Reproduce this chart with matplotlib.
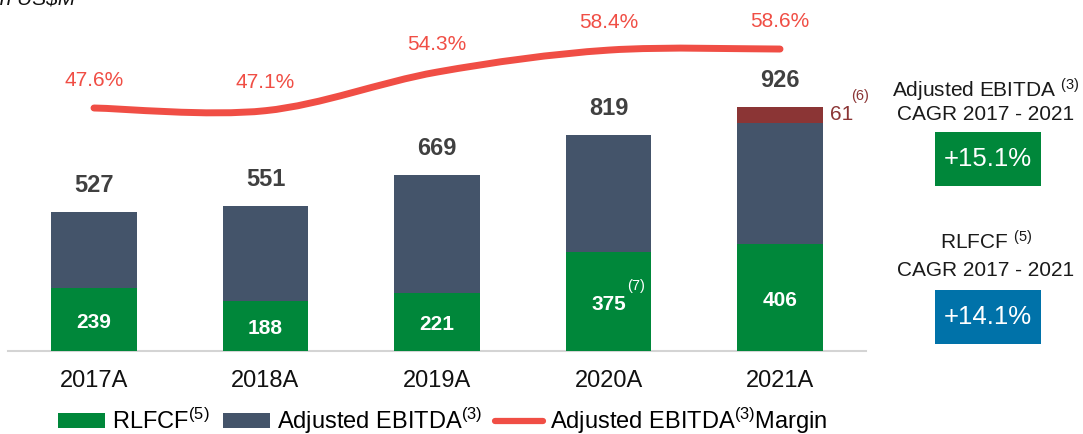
import matplotlib.pyplot as plt
from matplotlib.patches import Patch, PathPatch, Rectangle
from matplotlib.lines import Line2D
from matplotlib.path import Path

plt.rcParams['font.family'] = ['Liberation Sans', 'DejaVu Sans']
plt.rcParams['mathtext.fontset'] = 'custom'
plt.rcParams['mathtext.rm'] = 'Liberation Sans'
plt.rcParams['mathtext.it'] = 'Liberation Sans:italic'
plt.rcParams['mathtext.bf'] = 'Liberation Sans:bold'

years = ['2017A', '2018A', '2019A', '2020A', '2021A']
adj_ebitda = [527, 551, 669, 819, 926]
rlfcf = [239, 188, 221, 375, 406]
one_off = [0, 0, 0, 0, 61]
margin = [47.6, 47.1, 54.3, 58.4, 58.6]
cagr_ebitda = '+15.1%'
cagr_rlfcf = '+14.1%'

GREEN = '#00873A'
NAVY = '#44546A'
MAROON = '#8B3535'
RED = '#F04E45'
BLUE = '#0072A9'
DARK = '#404040'

W, H = 1083, 434
fig = plt.figure(figsize=(W / 100, H / 100), dpi=100)

# bars sit on a baseline 351px from the top
ax = fig.add_axes([0, 83 / H, 1, 351 / H])
x = list(range(len(years)))
rest = [e - r - o for e, r, o in zip(adj_ebitda, rlfcf, one_off)]
top_base = [r + m for r, m in zip(rlfcf, rest)]

ax.bar(x, rlfcf, width=0.5, color=GREEN, zorder=2)
ax.bar(x, rest, bottom=rlfcf, width=0.5, color=NAVY, zorder=2)
ax.bar(x, one_off, bottom=top_base, width=0.5, color=MAROON, zorder=2)

ax.set_xlim(-94 / 171.5, (W - 94) / 171.5)
ax.set_ylim(0, 351 / 0.2638)
ax.plot([-0.5, len(x) - 0.5], [0, 0], color='#d4d4d4', lw=1.5, clip_on=False, zorder=1)

for i in x:
    ax.annotate(str(adj_ebitda[i]), (i, adj_ebitda[i]), xytext=(0, 19),
                textcoords='offset points', ha='center', va='center',
                fontsize=17, fontweight='bold', color=DARK)
    ax.annotate(str(rlfcf[i]), (i, rlfcf[i] / 2), xytext=(0, -2),
                textcoords='offset points', ha='center', va='center',
                fontsize=15, fontweight='bold', color='white')

# footnote markers
ax.annotate('(7)', (3, rlfcf[3] / 2), xytext=(19.5, 11.5), textcoords='offset points',
            ha='center', va='center', fontsize=10.5, color='white')
ax.annotate(str(one_off[4]), (4.25, top_base[4] + one_off[4] / 2), xytext=(5, 0),
            textcoords='offset points', ha='left', va='center', fontsize=15, color=MAROON)
ax.annotate('(6)', (4.25, adj_ebitda[4]), xytext=(27, 8), textcoords='offset points',
            ha='center', va='center', fontsize=10.5, color=MAROON)

ax.set_xticks(x, years)
ax.tick_params(axis='x', length=0, pad=14, labelsize=17, labelcolor='#111111')
ax.set_yticks([])
for s in ax.spines.values():
    s.set_visible(False)

# margin line on its own scale
ax2 = ax.twinx()
ax2.set_ylim(47.6 - (351 - 108) / 5.36, 47.6 + 108 / 5.36)
ax2.set_yticks([])
for s in ax2.spines.values():
    s.set_visible(False)

pts = list(zip(x, margin))
ext = [pts[0]] + pts + [pts[-1]]
verts = [pts[0]]
codes = [Path.MOVETO]
for i in range(len(pts) - 1):
    p0, p1, p2, p3 = ext[i], ext[i + 1], ext[i + 2], ext[i + 3]
    c1 = (p1[0] + (p2[0] - p0[0]) / 6, p1[1] + (p2[1] - p0[1]) / 6)
    c2 = (p2[0] - (p3[0] - p1[0]) / 6, p2[1] - (p3[1] - p1[1]) / 6)
    verts += [c1, c2, p2]
    codes += [Path.CURVE4] * 3
ax2.add_patch(PathPatch(Path(verts, codes), fill=False, edgecolor=RED, lw=5,
                        capstyle='round', zorder=3))

for i in x:
    ax2.annotate(f'{margin[i]:.1f}%', (i, margin[i]), xytext=(0, 20),
                 textcoords='offset points', ha='center', va='center',
                 fontsize=15, color=RED)

# legend
handles = [Patch(facecolor=GREEN), Patch(facecolor=NAVY),
           Line2D([], [], color=RED, lw=4.5, solid_capstyle='round')]
labels = ['RLFCF$^{(5)}$', 'Adjusted EBITDA$^{(3)}$', 'Adjusted EBITDA$^{(3)}$Margin']
fig.legend(handles, labels, loc='center left', bbox_to_anchor=(58 / W, 1 - 421 / H),
           ncol=3, frameon=False, fontsize=17, handlelength=2.0, handleheight=0.6,
           handletextpad=0.3, columnspacing=0.55, borderpad=0, borderaxespad=0)

# CAGR panel
fig.text(986 / W, 1 - 97.5 / H, 'Adjusted EBITDA $^{(3)}$', ha='center', va='baseline',
         fontsize=15, color='#1a1a1a')
fig.text(986 / W, 1 - 120.5 / H, 'CAGR 2017 - 2021', ha='center', va='baseline',
         fontsize=15, color='#1a1a1a')
fig.add_artist(Rectangle((935 / W, 1 - 186 / H), 106 / W, 54 / H,
                         transform=fig.transFigure, facecolor=GREEN, edgecolor='none'))
fig.text(988 / W, 1 - 159 / H, cagr_ebitda, ha='center', va='center',
         fontsize=18.5, color='white')

fig.text(986 / W, 1 - 249 / H, 'RLFCF $^{(5)}$', ha='center', va='baseline',
         fontsize=15, color='#1a1a1a')
fig.text(986 / W, 1 - 276.5 / H, 'CAGR 2017 - 2021', ha='center', va='baseline',
         fontsize=15, color='#1a1a1a')
fig.add_artist(Rectangle((935 / W, 1 - 344 / H), 106 / W, 54 / H,
                         transform=fig.transFigure, facecolor=BLUE, edgecolor='none'))
fig.text(988 / W, 1 - 317 / H, cagr_rlfcf, ha='center', va='center',
         fontsize=18.5, color='white')

fig.text(-6 / W, 1 - 4 / H, 'In US\\$M', ha='left', va='baseline', fontsize=15,
         style='italic', color='#111111')

fig.savefig('out.png', dpi=100)
